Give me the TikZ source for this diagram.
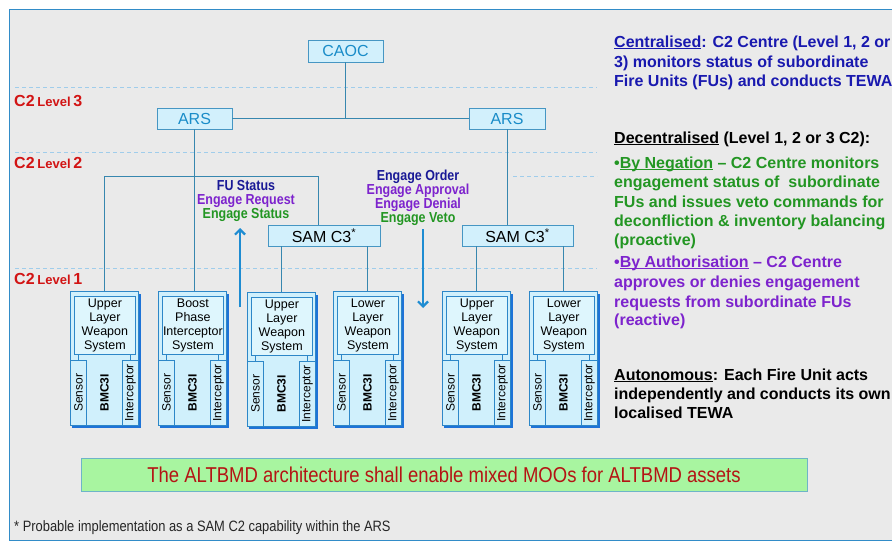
\documentclass[tikz,border=0pt]{standalone}
\usepackage{fontspec}
\setmainfont{Liberation Sans}
\newfontfamily\narrowfont[FakeStretch=0.86]{Liberation Sans}
\usetikzlibrary{arrows.meta,calc}
\definecolor{cBg}{RGB}{234,234,234}
\definecolor{cFrame}{RGB}{50,140,200}
\definecolor{cDash}{RGB}{160,205,235}
\definecolor{cBoxFill}{RGB}{210,240,252}
\definecolor{cBoxDraw}{RGB}{70,150,195}
\definecolor{cTopText}{RGB}{25,140,200}
\definecolor{cConn}{RGB}{55,135,175}
\definecolor{cArrow}{RGB}{30,140,210}
\definecolor{cShadow}{RGB}{30,115,215}
\definecolor{cFuFill}{RGB}{208,240,252}
\definecolor{cFuInner}{RGB}{222,246,253}
\definecolor{cFuDraw}{RGB}{45,135,200}
\definecolor{cRed}{RGB}{210,20,20}
\definecolor{cNavy}{RGB}{25,25,150}
\definecolor{cPurp}{RGB}{125,35,205}
\definecolor{cGrn}{RGB}{35,150,35}
\definecolor{cRBlue}{RGB}{25,25,175}
\definecolor{cBanFill}{RGB}{168,245,160}
\definecolor{cBanDraw}{RGB}{110,180,200}
\definecolor{cBanText}{RGB}{180,20,20}
\newcommand{\myul}[1]{\setbox0\hbox{#1}\rlap{\rule[-1.8pt]{\wd0}{1.1pt}}\box0\relax}
\tikzset{
  topbox/.style={draw=cBoxDraw, fill=cBoxFill, line width=0.8pt, inner sep=0pt, minimum height=21pt, font=\fontsize{16}{18}\selectfont, text=cTopText},
  conn/.style={draw=cConn, line width=1pt},
  dline/.style={draw=cDash, line width=1pt, dash pattern=on 4pt off 3pt},
  fuouter/.style={draw=cFuDraw, fill=cFuFill, line width=0.8pt, inner sep=0pt, minimum width=68pt, minimum height=134pt},
  fuinner/.style={draw=cFuDraw, fill=cFuInner, line width=0.8pt, inner sep=0pt, minimum width=61pt, minimum height=58pt, align=center, font=\fontsize{12.5}{14}\selectfont},
  fucol/.style={draw=cFuDraw, fill=cFuFill, line width=0.8pt, inner sep=0pt, minimum width=16pt, minimum height=65pt},
  coltext/.style={rotate=90, inner sep=0pt, font=\fontsize{12}{14}\selectfont},
  fuline/.style={draw=cFuDraw, line width=0.8pt},
  lvl/.style={anchor=west, inner sep=0pt, text=cRed, font=\bfseries},
  msg/.style={align=center, inner sep=0pt, font=\narrowfont\bfseries\fontsize{14.5}{14}\selectfont},
  rtext/.style={anchor=base west, inner sep=0pt, font=\bfseries\fontsize{16}{19.5}\selectfont},
  flow/.style={draw=cArrow, line width=2.2pt, -{Straight Barb[length=5pt,width=10pt]}},
}
\newcommand{\fireunit}[4]{%
  \fill[cShadow] ($(#2,#3)+(2,3)$) rectangle ($(#2,#3)+(70.5,136.5)$);
  \node[fuouter, anchor=north west] (#1) at (#2,#3) {};
  \node[fuinner, anchor=north west] (#1w) at ($(#2,#3)+(4,5)$) {#4};
  \node[fucol, anchor=south west] (#1s) at (#1.south west) {};
  \node[fucol, anchor=south east] (#1i) at (#1.south east) {};
  \node[coltext] (#1st) at (#1s.center) {Sensor};
  \node[coltext] (#1it) at (#1i.center) {Interceptor};
  \node[coltext, font=\bfseries\fontsize{12}{14}\selectfont] (#1bt) at ($(#1s.east)!0.5!(#1i.west)$) {BMC3I};
  \draw[fuline] (#1s.north) -- (#1s.north |- #1w.south);
  \draw[fuline] (#1i.north) -- (#1i.north |- #1w.south);
}
\begin{document}
\begin{tikzpicture}[x=1pt,y=-1pt]
\useasboundingbox (0,0) rectangle (892,543);
\fill[white] (0,0) rectangle (892,543);
\filldraw[fill=cBg, draw=cFrame, line width=1pt] (9,10) rectangle (898,540);

% level separators
\draw[dline] (15,88) -- (597,88);
\draw[dline] (15,152) -- (597,152);
\draw[dline] (15,268) -- (597,268);
\draw[dline] (513,176) -- (597,176);

% level labels
\node[lvl] (l3) at (14,101) {{\fontsize{16}{18}\selectfont C2} {\fontsize{13}{15}\selectfont Level} {\fontsize{16}{18}\selectfont 3}};
\node[lvl] (l2) at (14,163) {{\fontsize{16}{18}\selectfont C2} {\fontsize{13}{15}\selectfont Level} {\fontsize{16}{18}\selectfont 2}};
\node[lvl] (l1) at (14,279) {{\fontsize{16}{18}\selectfont C2} {\fontsize{13}{15}\selectfont Level} {\fontsize{16}{18}\selectfont 1}};

% C2 nodes
\node[topbox, minimum width=75pt, minimum height=22pt] (caoc) at (345.5,51) {CAOC};
\node[topbox, minimum width=75pt] (arsL) at (194.5,118.5) {ARS};
\node[topbox, minimum width=76pt] (arsR) at (507,118.5) {ARS};
\node[topbox, minimum width=112pt, text=black] (samL) at (324,235.5) {SAM C3\textsuperscript{*}};
\node[topbox, minimum width=111pt, text=black] (samR) at (517.5,235.5) {SAM C3\textsuperscript{*}};

% fire units
\fireunit{fu1}{70}{291}{Upper\\Layer\\Weapon\\System}
\fireunit{fu2}{158}{291}{Boost\\Phase\\Interceptor\\System}
\fireunit{fu3}{247}{292}{Upper\\Layer\\Weapon\\System}
\fireunit{fu4}{333}{291}{Lower\\Layer\\Weapon\\System}
\fireunit{fu5}{442}{291}{Upper\\Layer\\Weapon\\System}
\fireunit{fu6}{529}{291}{Lower\\Layer\\Weapon\\System}

% connectors
\coordinate (busy) at (0,176);
\draw[conn] (caoc.south) -- (caoc.south |- arsL.east);
\draw[conn] (arsL.east) -- (arsR.west);
\draw[conn] (arsL.south) -- (arsL.south |- fu2.north);
\draw[conn] (arsR.south) -- (arsR.south |- samR.north);
\draw[conn] (fu1.north) -- (fu1.north |- busy) -| ($(samL.north)+(-6,0)$);
\draw[conn] (fu3.north) -- (fu3.north |- samL.south);
\draw[conn] (fu4.north) -- (fu4.north |- samL.south);
\draw[conn] (fu5.north) -- (fu5.north |- samR.south);
\draw[conn] (fu6.north) -- (fu6.north |- samR.south);

% message flows
\coordinate (upS) at (240,307);
\coordinate (upE) at (240,228);
\coordinate (dnS) at (423,229);
\coordinate (dnE) at (423,308);
\draw[flow] (upS) -- (upE);
\draw[flow] (dnS) -- (dnE);
\node[msg] (upmsg) at (246,201) {\color{cNavy}FU Status\\\color{cPurp}Engage Request\\\color{cGrn}Engage Status};
\node[msg] (dnmsg) at (418,197.5) {\color{cNavy}Engage Order\\\color{cPurp}Engage Approval\\\color{cPurp}Engage Denial\\\color{cGrn}Engage Veto};

% right-hand text
\node[rtext, text=cRBlue] (c1) at (614,47.5) {\myul{Centralised}: C2 Centre (Level 1, 2 or};
\node[rtext, text=cRBlue] (c2) at (614,67) {3) monitors status of subordinate};
\node[rtext, text=cRBlue] (c3) at (614,86.5) {Fire Units (FUs) and conducts TEWA};
\node[rtext] (d1) at (614,143.5) {\myul{Decentralised} (Level 1, 2 or 3 C2):};
\node[rtext, text=cGrn] (n1) at (614,168) {•\myul{By Negation} – C2 Centre monitors};
\node[rtext, text=cGrn] (n2) at (614,187.5) {engagement status of\ \ subordinate};
\node[rtext, text=cGrn] (n3) at (614,207) {FUs and issues veto commands for};
\node[rtext, text=cGrn] (n4) at (614,226.5) {deconfliction \& inventory balancing};
\node[rtext, text=cGrn] (n5) at (614,245.5) {(proactive)};
\node[rtext, text=cPurp] (a1) at (614,267.5) {•\myul{By Authorisation} – C2 Centre};
\node[rtext, text=cPurp] (a2) at (614,287.5) {approves or denies engagement};
\node[rtext, text=cPurp] (a3) at (614,307) {requests from subordinate FUs};
\node[rtext, text=cPurp] (a4) at (614,325.5) {(reactive)};
\node[rtext] (u1) at (614,380.5) {\myul{Autonomous}: Each Fire Unit acts};
\node[rtext] (u2) at (614,399.5) {independently and conducts its own};
\node[rtext] (u3) at (614,418.5) {localised TEWA};

% banner and footnote
\node[draw=cBanDraw, fill=cBanFill, line width=0.8pt, minimum width=726pt, minimum height=33pt, inner sep=0pt, text=cBanText, font=\narrowfont\fontsize{21.5}{22}\selectfont] (banner) at (444,475) {The ALTBMD architecture shall enable mixed MOOs for ALTBMD assets};
\node[anchor=west, inner sep=0pt, text=black!85, font=\narrowfont\fontsize{15}{16}\selectfont] (foot) at (14,528) {* Probable implementation as a SAM C2 capability within the ARS};
\end{tikzpicture}
\end{document}
